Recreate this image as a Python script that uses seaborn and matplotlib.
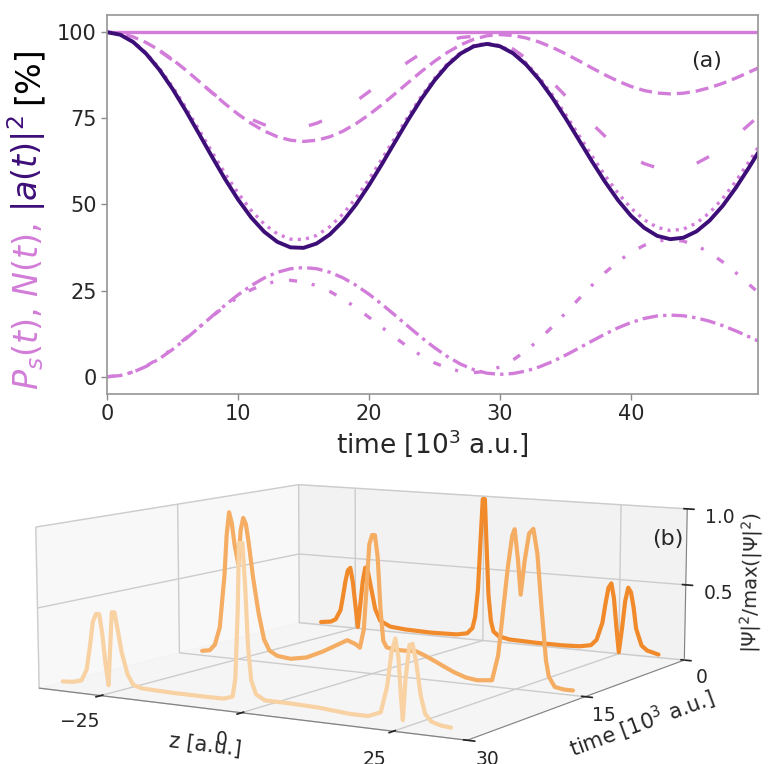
import matplotlib
matplotlib.use("Agg")
import matplotlib.pyplot as plt
import numpy as np
import pandas as pd
import seaborn as sns

# ---------------- panel (a): populations vs time ----------------
t_fs = list(range(50)) + [49.7]          # time [10^3 a.u.]

norm_N = [100.0] * 51                      # N(t), total norm

a2 = [100, 99.28, 97.14, 93.69, 89.08, 83.55, 77.31, 70.67, 63.95, 57.43,
      51.46, 46.25, 42.08, 39.15, 37.56, 37.41, 38.67, 41.27, 45.09, 49.94,
      55.60, 61.80, 68.24, 74.62, 80.64, 86.01, 90.47, 93.82, 95.90, 96.60,
      95.91, 93.87, 90.58, 86.21, 80.95, 75.09, 68.88, 62.64, 56.68, 51.29,
      46.72, 43.24, 40.89, 39.93, 40.36, 42.19, 45.32, 49.60, 54.82, 60.67,
      65.0]

ps_dot = [100, 99.30, 97.25, 93.93, 89.50, 84.18, 78.18, 71.79, 65.33, 59.06,
          53.32, 48.31, 44.30, 41.48, 39.95, 39.81, 41.02, 43.53, 47.20, 51.87,
          57.32, 63.29, 69.49, 75.64, 81.43, 86.60, 90.90, 94.12, 96.12, 96.80,
          96.14, 94.18, 91.03, 86.83, 81.79, 76.16, 70.20, 64.22, 58.50, 53.33,
          48.94, 45.60, 43.35, 42.43, 42.84, 44.60, 47.61, 51.72, 56.73, 62.34,
          66.5]

ps_dash = [100, 99.65, 98.63, 96.97, 94.76, 92.08, 89.05, 85.81, 82.49, 79.25,
           76.22, 73.54, 71.33, 69.67, 68.65, 68.30, 68.64, 69.64, 71.26, 73.43,
           76.05, 79.01, 82.18, 85.42, 88.59, 91.55, 94.17, 96.34, 97.96, 98.96,
           99.30, 99.05, 98.32, 97.14, 95.59, 93.75, 91.74, 89.66, 87.65, 85.81,
           84.26, 83.08, 82.35, 82.10, 82.30, 82.91, 83.88, 85.16, 86.68, 88.37,
           89.6]

ps_longdash = [100, 99.64, 98.57, 96.86, 94.59, 91.87, 88.85, 85.68, 82.53, 79.56,
               76.91, 74.75, 73.15, 72.23, 72.01, 72.47, 73.56, 75.22, 77.38, 79.93,
               82.75, 85.70, 88.63, 91.40, 93.89, 95.96, 97.51, 98.47, 98.80, 98.38,
               97.13, 95.11, 92.41, 89.15, 85.46, 81.52, 77.48, 73.54, 69.85, 66.59,
               63.89, 61.87, 60.62, 60.20, 60.64, 61.93, 63.99, 66.67, 69.79, 73.14,
               75.5]

out_dashdot = [0, 0.35, 1.37, 3.03, 5.24, 7.92, 10.95, 14.19, 17.51, 20.75,
               23.78, 26.46, 28.67, 30.33, 31.35, 31.70, 31.36, 30.36, 28.74, 26.57,
               23.95, 20.99, 17.82, 14.58, 11.41, 8.45, 5.83, 3.66, 2.04, 1.04,
               0.70, 0.95, 1.68, 2.86, 4.41, 6.25, 8.26, 10.34, 12.35, 14.19,
               15.74, 16.92, 17.65, 17.90, 17.70, 17.09, 16.12, 14.84, 13.32, 11.63,
               10.4]

out_loose = [0, 0.36, 1.43, 3.14, 5.41, 8.13, 11.15, 14.32, 17.47, 20.44,
             23.09, 25.25, 26.85, 27.77, 27.99, 27.53, 26.44, 24.78, 22.62, 20.07,
             17.25, 14.30, 11.37, 8.60, 6.11, 4.04, 2.49, 1.53, 1.20, 1.62,
             2.87, 4.89, 7.59, 10.85, 14.54, 18.48, 22.52, 26.46, 30.15, 33.41,
             36.11, 38.13, 39.38, 39.80, 39.36, 38.07, 36.01, 33.33, 30.21, 26.86,
             24.5]

# ---------------- panel (b): density snapshots ----------------
z_t0 = [-32, -30, -29, -28, -27.5, -27, -26.5, -26, -25.5, -25, -24.5, -24, -23.5,
        -23, -22.5, -22, -21, -20, -18, -15, -10, -5, -3, -2, -1.5, -1, -0.5,
        -0.2, 0.2, 0.5, 1, 1.5, 2, 3, 5, 10, 15, 18, 20, 21, 22, 22.5, 23, 23.5,
        24, 24.5, 25, 25.5, 26, 26.5, 27, 27.5, 28, 29, 30, 32]
rho_t0 = [0.02, 0.03, 0.05, 0.12, 0.22, 0.33, 0.41, 0.43, 0.33, 0.17, 0.01, 0.17, 0.34,
          0.44, 0.42, 0.33, 0.15, 0.07, 0.035, 0.025, 0.02, 0.025, 0.04, 0.08, 0.16,
          0.35, 0.75, 0.98, 0.98, 0.72, 0.32, 0.14, 0.07, 0.04, 0.025, 0.02, 0.02,
          0.025, 0.04, 0.08, 0.20, 0.33, 0.44, 0.47, 0.37, 0.18, 0.01, 0.17, 0.36,
          0.45, 0.42, 0.32, 0.18, 0.07, 0.04, 0.02]

z_t15 = [-32, -30.5, -29.5, -28.5, -27.5, -27, -26.5, -26, -25.5, -24.8, -24.3, -23.8,
         -23.3, -22.8, -22, -21, -20, -19, -17.5, -15, -12, -9, -6, -4.5, -3, -2.2,
         -1.5, -1, -0.5, 0, 0.5, 1, 1.5, 2, 2.6, 4, 6, 7.7, 9.5, 11, 13, 14.5, 16.5,
         18.5, 21, 22, 22.5, 23.5, 24.2, 24.6, 25.2, 25.7, 26.3, 27, 27.7, 28.4, 29.2,
         30, 30.5, 31.5, 33, 34.5]
rho_t15 = [0.03, 0.04, 0.08, 0.20, 0.55, 0.82, 0.97, 0.90, 0.76, 0.63, 0.86, 0.94,
           0.90, 0.78, 0.55, 0.32, 0.15, 0.08, 0.05, 0.04, 0.06, 0.11, 0.17, 0.20, 0.18,
           0.16, 0.28, 0.55, 0.83, 0.89, 0.89, 0.75, 0.42, 0.22, 0.18, 0.17, 0.17,
           0.175, 0.15, 0.125, 0.09, 0.065, 0.04, 0.03, 0.04, 0.20, 0.38, 0.75, 0.95,
           0.99, 0.80, 0.59, 0.80, 0.97, 1.0, 0.85, 0.51, 0.20, 0.10, 0.04, 0.03, 0.03]

z_t30 = [-32, -30, -28.5, -27.5, -26.8, -26.2, -25.6, -25, -24.5, -24, -23.5, -23.1,
         -22.7, -22.2, -21.6, -21, -20, -19, -17.5, -12, -6, -3, -1.5, -1, -0.5, -0.2,
         0.4, 0.8, 1.2, 1.7, 2.5, 4, 8, 13, 18, 21, 23, 24, 24.7, 25.3, 25.8, 26.2,
         26.5, 26.9, 27.5, 28, 28.6, 29.3, 30, 31, 32.5, 34]
rho_t30 = [0.06, 0.065, 0.08, 0.15, 0.30, 0.45, 0.50, 0.50, 0.38, 0.20, 0.07, 0.30,
           0.52, 0.52, 0.40, 0.28, 0.15, 0.09, 0.075, 0.07, 0.07, 0.072, 0.09, 0.20,
           0.60, 1.0, 1.0, 0.75, 0.40, 0.20, 0.12, 0.09, 0.09, 0.085, 0.07, 0.07, 0.10,
           0.25, 0.45, 0.53, 0.42, 0.20, 0.07, 0.30, 0.50, 0.51, 0.40, 0.22, 0.12, 0.08,
           0.065, 0.06]

snap_times = [0, 15, 30]
snap_colors = ["#F18A2A", "#F4AD62", "#F8D2A3"]

# ---------------- style ----------------
sns.set_theme(style="ticks")
plt.rcParams["font.family"] = ["DejaVu Sans"]
plt.rcParams["mathtext.fontset"] = "dejavusans"
plt.rcParams["lines.scale_dashes"] = False

ORCHID = "#D27DD9"
INDIGO = "#3D0E78"

fig = plt.figure(figsize=(7.79, 7.64), dpi=100)

# ---------------- panel (b): 3-D waterfall (drawn first, sits underneath) ----------------
ax3 = fig.add_axes([-0.07, -0.078, 1.08, 0.58], projection="3d")
ax3.patch.set_alpha(0)
for zz, rr, tt, cc in zip([z_t0, z_t15, z_t30], [rho_t0, rho_t15, rho_t30],
                          snap_times, snap_colors):
    ax3.plot(zz, [tt] * len(zz), rr, color=cc, linewidth=3.0, clip_on=False)

ax3.set_xlim(-36.5, 36.5)
ax3.set_ylim(30, 0)
ax3.set_zlim(0, 1.0)
ax3.set_xticks([-25, 0, 25])
ax3.set_yticks([0, 15, 30])
ax3.set_zticks([0.5, 1.0])
ax3.tick_params(labelsize=13.5)
ax3.tick_params(axis="z", pad=1)
ax3.tick_params(axis="y", pad=-1)
ax3.set_xlabel("z [a.u.]", fontsize=15, labelpad=0)
ax3.set_ylabel("time [10$^3$ a.u.]", fontsize=15, labelpad=0)
ax3.set_zlabel(r"$|\Psi|^2/\mathrm{max}(|\Psi|^2)$", fontsize=14, labelpad=-3)
ax3.view_init(elev=8.5, azim=-59)
ax3.set_box_aspect((3.55, 3.5, 1.18), zoom=1.50)
ax3.grid(True)
for axis in (ax3.xaxis, ax3.yaxis, ax3.zaxis):
    axis.line.set_color("0.5")
    axis.line.set_linewidth(0.8)
fig.text(652 / 779, (764 - 545) / 764, "(b)", fontsize=16)

# ---------------- panel (a) ----------------
ax = fig.add_axes([0.1374, 0.4843, 0.8357, 0.4961])

df = pd.DataFrame({
    "t": t_fs, "N": norm_N, "a2": a2, "dot": ps_dot, "dash": ps_dash,
    "ldash": ps_longdash, "dd": out_dashdot, "loose": out_loose,
})

curves = [
    ("N", ORCHID, 2.4, "-"),
    ("dash", ORCHID, 2.4, (0, (9.4, 4.3))),
    ("ldash", ORCHID, 2.4, (0, (10.0, 31.5))),
    ("dd", ORCHID, 2.4, (0, (11.2, 3.7, 2.4, 3.7))),
    ("loose", ORCHID, 2.4, (0, (5.8, 10.8, 2.2, 11.5))),
    ("dot", ORCHID, 2.4, (0, (2.2, 3.8))),
    ("a2", INDIGO, 2.8, "-"),
]
for col, c, lw, ls in curves:
    sns.lineplot(data=df, x="t", y=col, ax=ax, color=c, linewidth=lw)
    ax.lines[-1].set_linestyle(ls)

ax.set_xlim(0, 49.7)
ax.set_ylim(-5, 105)
ax.set_xticks([0, 10, 20, 30, 40])
ax.set_yticks([0, 25, 50, 75, 100])
ax.tick_params(labelsize=15, color="0.55", length=4, width=1)
for sp in ax.spines.values():
    sp.set_color("0.6")
ax.set_xlabel("time [10$^3$ a.u.]", fontsize=19, labelpad=2)
ax.set_ylabel("")
ax.text(0.945, 0.905, "(a)", transform=ax.transAxes, fontsize=16,
        ha="right", va="top")

# multi-coloured y label, stacked along the vertical
fig.canvas.draw()
renderer = fig.canvas.get_renderer()
y_px = 764 - 390
for txt, c in [("$P_s(t)$, $N(t)$,", ORCHID), ("$|a(t)|^2$", INDIGO), ("[%]", "black")]:
    tx = fig.text(38 / 779, y_px / 764, txt, rotation=90, rotation_mode="anchor",
                  ha="left", va="baseline", color=c, fontsize=24)
    bb = tx.get_window_extent(renderer)
    y_px = bb.y1 + 11

fig.savefig("out.png", dpi=100)
